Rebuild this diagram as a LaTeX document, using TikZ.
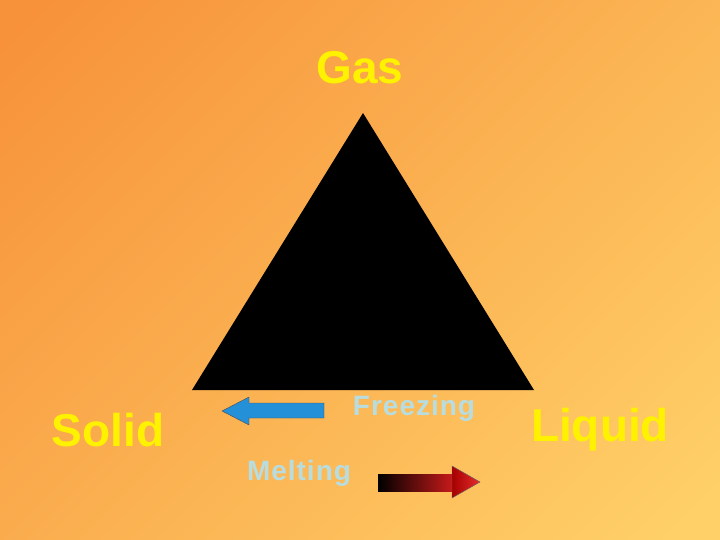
\documentclass[tikz,border=0pt]{standalone}
\usepackage{fontspec}
\setmainfont{Liberation Sans}
\begin{document}
\begin{tikzpicture}[x=1pt,y=-1pt,
  big/.style={font=\fontsize{46}{50}\selectfont\bfseries,text=yellow},
  small/.style={font=\fontsize{28}{30}\selectfont\bfseries,text=lab}]
\definecolor{bgA}{HTML}{F7923A}\definecolor{bgB}{HTML}{FFD068}
\definecolor{lab}{HTML}{B8DDE0}
\useasboundingbox (0,0) rectangle (720,540);
\begin{scope}
\clip (0,0) rectangle (720,540);
\shade[left color=bgA,right color=bgB,shading angle=45] (-100,-100) rectangle (820,640);
\end{scope}
\fill[black] (363,113) coordinate (apex) -- (192,390) -- (534,390) -- cycle;
\node[big] (gas) at (360,68) {Gas};
\node[big] (solid) at (108,430) {Solid};
\node[big] (liquid) at (600,430) {Liquid};
\node[small] (frz) at (414,408) {F\kern1pt r\kern1pt e\kern1pt e\kern1pt z\kern1pt i\kern1pt n\kern1pt g};
\node[small] (mlt) at (299,473) {M\kern1pt e\kern1pt l\kern1pt t\kern1pt i\kern1pt n\kern1pt g};
\draw[fill=cyan!70!blue!90!white,draw=black!70] (222,411) -- (249,397) -- (249,403) -- (324,403) -- (324,418) -- (249,418) -- (249,425) -- cycle;
\shade[left color=black,right color=red!75!black!90!white] (378,474) rectangle (452,491);
\shade[left color=red!65!black,right color=red!80!white!90!black,draw=black!60] (452,466) -- (480,482) -- (452,498) -- cycle;
\end{tikzpicture}
\end{document}
